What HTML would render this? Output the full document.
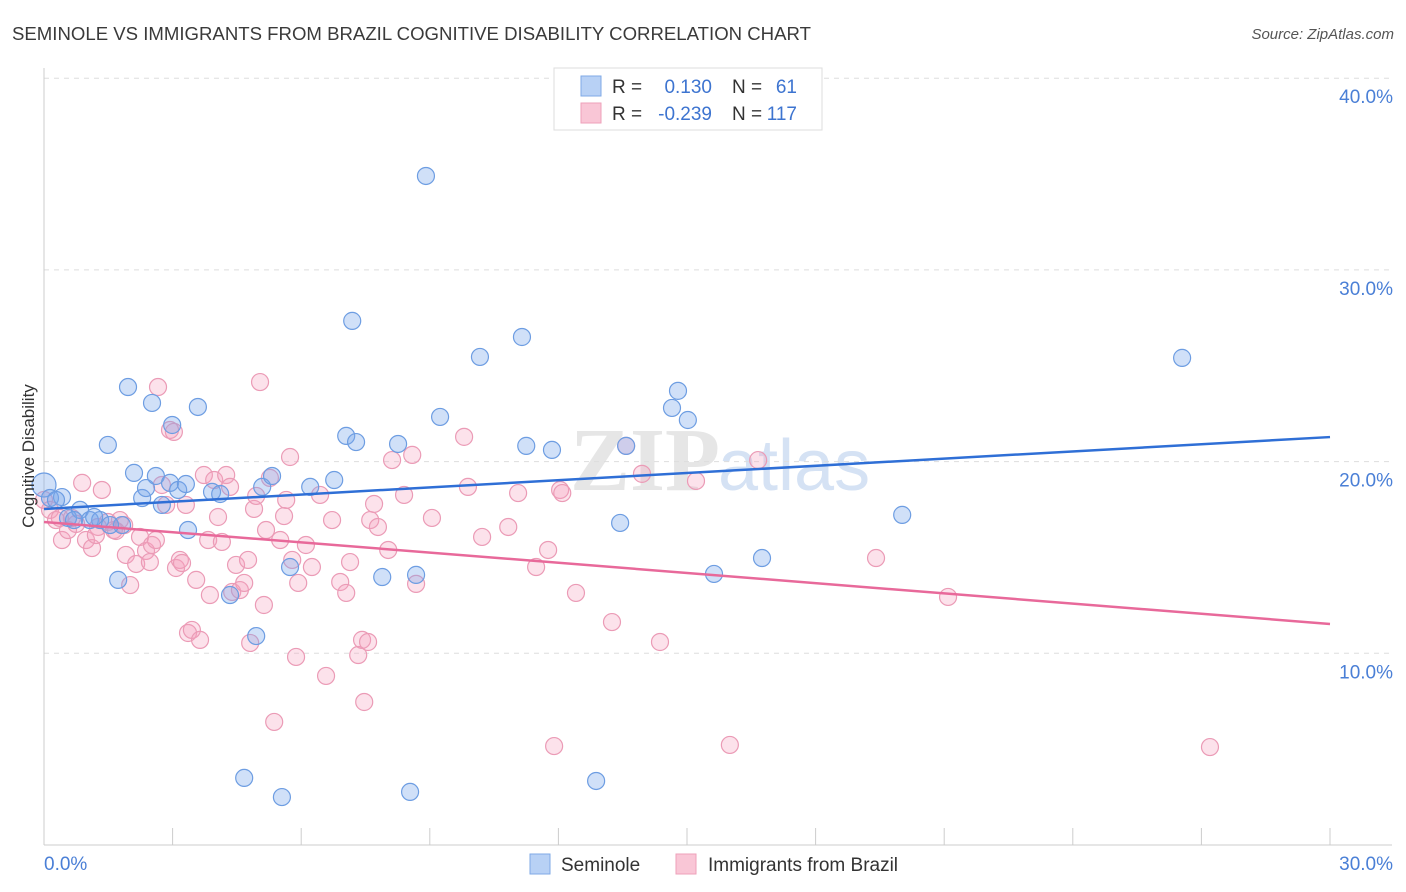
<!DOCTYPE html>
<html><head><meta charset="utf-8"><style>
body{margin:0;background:#fff;font-family:"Liberation Sans",sans-serif;}
svg{display:block}
</style></head><body>
<svg id="chart" width="1406" height="892">
<text x="12" y="40" font-size="18.6" fill="#3a3a3a">SEMINOLE VS IMMIGRANTS FROM BRAZIL COGNITIVE DISABILITY CORRELATION CHART</text>
<text x="1394" y="39" font-size="15" fill="#555" text-anchor="end" font-style="italic">Source: ZipAtlas.com</text>
<text x="720" y="490" font-size="90" fill="#e6e6e6" text-anchor="end" font-family="Liberation Serif" font-weight="bold">ZIP</text>
<text x="718" y="490" font-size="72" fill="#d5e2f4">atlas</text>
<g id="grid"></g><g id="axes"></g><g id="marks"></g>
<text transform="translate(34,456) rotate(-90)" font-size="17" fill="#333" text-anchor="middle">Cognitive Disability</text>
<g>
<rect x="554" y="68" width="268" height="62" fill="#fff" stroke="#ddd"/>
<rect x="581" y="76" width="20" height="20" fill="#b8d1f5" stroke="#7fa9e6"/>
<rect x="581" y="103" width="20" height="20" fill="#f9c6d6" stroke="#eea0ba"/>
<text x="612" y="93" font-size="19" fill="#333">R =</text>
<text x="712" y="93" font-size="19" fill="#3d74d0" text-anchor="end">0.130</text>
<text x="732" y="93" font-size="19" fill="#333">N =</text>
<text x="797" y="93" font-size="19" fill="#3d74d0" text-anchor="end">61</text>
<text x="612" y="120" font-size="19" fill="#333">R =</text>
<text x="712" y="120" font-size="19" fill="#3d74d0" text-anchor="end">-0.239</text>
<text x="732" y="120" font-size="19" fill="#333">N =</text>
<text x="797" y="120" font-size="19" fill="#3d74d0" text-anchor="end">117</text>
</g>
<g>
<rect x="530" y="854" width="20" height="20" fill="#b8d1f5" stroke="#7fa9e6"/>
<text x="561" y="871" font-size="19" fill="#333">Seminole</text>
<rect x="676" y="854" width="20" height="20" fill="#f9c6d6" stroke="#eea0ba"/>
<text x="708" y="871" font-size="19" fill="#333">Immigrants from Brazil</text>
</g>
</svg>
<script>
const yTicks=[10,20,30,40];
const yTickLabels=["10.0%","20.0%","30.0%","40.0%"];
const xTickCount=10;
const seminoleX=[0,0.14,0.42,0.56,0.84,1.07,1.31,1.49,1.73,1.96,2.1,2.29,2.38,2.52,2.61,2.75,2.99,2.94,3.13,3.31,3.36,3.59,3.92,4.11,4.34,4.67,4.95,5.09,5.32,5.55,5.74,6.21,6.77,7.05,7.19,7.28,7.89,8.26,8.54,8.68,8.91,9.24,10.17,11.15,11.25,11.85,12.88,13.44,13.58,14.65,14.79,15.02,15.63,16.75,20.02,26.55,0.28,0.7,1.17,1.82,1.54];
const seminoleY=[18.78,18.1,18.15,17.06,17.48,16.95,16.95,20.87,13.83,23.89,19.41,18.1,18.62,23.06,19.25,17.74,21.91,18.89,18.52,18.83,16.43,22.85,18.42,18.31,13.04,3.5,10.9,18.68,19.25,2.5,14.5,18.68,19.04,21.34,27.34,21.02,13.98,20.92,2.77,14.09,34.9,22.33,25.46,26.5,20.82,20.61,3.34,16.8,20.82,22.8,23.69,22.17,14.14,14.97,17.22,25.41,18.0,16.95,17.11,16.69,16.69];
const brazilX=[0,.14,.28,.42,.56,.75,.89,.98,1.12,1.26,1.35,1.49,1.63,1.77,1.87,1.91,2.01,2.15,2.24,2.38,2.47,2.52,2.61,2.66,2.75,2.85,2.94,3.03,3.08,3.17,3.22,3.31,3.36,3.45,3.55,3.64,3.73,3.83,3.87,3.97,4.06,4.15,4.25,4.34,4.39,4.48,4.57,4.67,4.76,4.81,4.9,4.95,5.04,5.13,5.18,5.27,5.37,5.51,5.6,5.65,5.74,5.79,5.88,5.93,6.11,6.25,6.44,6.58,6.72,6.91,7.05,7.14,7.33,7.42,7.47,7.56,7.61,7.7,7.79,8.03,8.12,8.4,8.59,8.68,9.05,9.8,9.89,10.22,10.83,11.06,11.48,11.76,11.9,12.04,12.09,12.41,13.25,13.58,13.95,14.37,15.21,16.0,16.66,19.41,21.09,27.2,.37,.65,1.21,1.68];
const brazilY=[18.0,17.48,16.95,15.91,16.43,16.75,18.89,15.91,15.49,16.59,18.52,16.85,16.43,16.95,16.69,15.13,13.56,14.66,16.07,15.34,14.76,15.65,15.91,23.89,18.78,17.74,21.65,21.55,14.45,14.87,14.71,17.74,11.06,11.22,13.83,10.7,19.3,15.91,13.04,19.04,17.11,15.81,19.3,18.68,13.2,14.61,13.3,13.67,14.87,10.54,17.53,18.21,24.15,12.52,16.43,19.15,6.42,15.91,17.16,18.0,20.24,14.87,9.81,13.67,15.65,14.5,18.26,8.82,16.95,13.72,13.15,14.76,9.91,10.7,7.46,10.59,16.95,17.79,16.59,15.39,20.08,18.26,20.35,13.62,17.06,21.29,18.68,16.07,16.59,18.36,14.5,15.39,5.16,18.52,18.36,13.15,11.63,20.82,19.36,10.59,18.99,5.22,20.08,14.97,12.94,5.11,17.06,17.06,16.17,16.38];
const seminoleTrend=[17.53,21.28];
const brazilTrend=[16.85,11.53];
const NS="http://www.w3.org/2000/svg";
const X0=44,X1=1330,Y0=845,PX_PER=19.17;
function sx(v){return X0+(v/30)*(X1-X0);}
function sy(v){return Y0-v*PX_PER;}
function mk(tag,attrs,parent){const e=document.createElementNS(NS,tag);for(const k in attrs)e.setAttribute(k,attrs[k]);parent.appendChild(e);return e;}
const grid=document.getElementById('grid'),axes=document.getElementById('axes'),marks=document.getElementById('marks');
yTicks.forEach((t,i)=>{
 const l=mk('line',{x1:X0,x2:1392,y1:sy(t),y2:sy(t),stroke:'#ddd','stroke-dasharray':'5,5'},grid);
 
 
 const tx=mk('text',{x:1393,y:sy(t)+25,'font-size':19,fill:'#4a7fd6','text-anchor':'end'},axes);
 tx.textContent=yTickLabels[i];
 
 
});
const ya=mk('line',{x1:X0,x2:X0,y1:68,y2:Y0,stroke:'#ccc'},axes);


const xa=mk('line',{x1:X0,x2:1392,y1:Y0,y2:Y0,stroke:'#ccc'},axes);


for(let i=1;i<=xTickCount;i++){
 const v=i*3;
 const t=mk('line',{x1:sx(v),x2:sx(v),y1:Y0,y2:828,stroke:'#ccc'},axes);
 
 
}
const xl0=mk('text',{x:44,y:870,'font-size':19,fill:'#4a7fd6'},axes);xl0.textContent='0.0%';


const xl1=mk('text',{x:1393,y:870,'font-size':19,fill:'#4a7fd6','text-anchor':'end'},axes);xl1.textContent='30.0%';


brazilX.forEach((x,i)=>{
 const c=mk('circle',{cx:sx(x),cy:sy(brazilY[i]),r:8.5,fill:'rgba(245,160,190,0.3)',stroke:'#eb9bb6','stroke-width':1.2},marks);
 
 
});
seminoleX.forEach((x,i)=>{
 const c=mk('circle',{cx:sx(x),cy:sy(seminoleY[i]),r:i===0?12:8.5,fill:'rgba(120,165,235,0.35)',stroke:'#6d9de2','stroke-width':1.2},marks);
 
 
});
const l1=mk('line',{x1:sx(0),x2:sx(30),y1:sy(seminoleTrend[0]),y2:sy(seminoleTrend[1]),stroke:'#2f6fd6','stroke-width':2.5},marks);


const l2=mk('line',{x1:sx(0),x2:sx(30),y1:sy(brazilTrend[0]),y2:sy(brazilTrend[1]),stroke:'#e8699a','stroke-width':2.5},marks);


</script>
</body></html>
